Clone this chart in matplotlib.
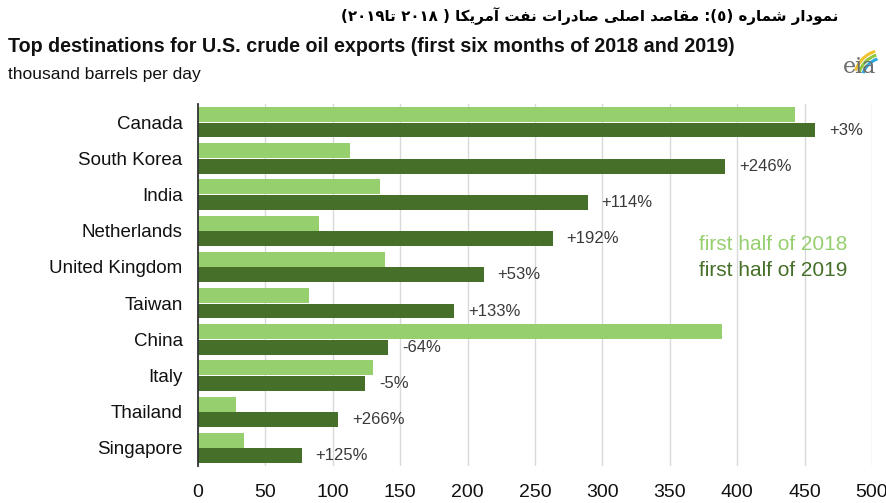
import re
import matplotlib
matplotlib.use("Agg")
import matplotlib.pyplot as plt
from matplotlib.patches import Arc

# === data ===
countries = ["Canada", "South Korea", "India", "Netherlands", "United Kingdom",
             "Taiwan", "China", "Italy", "Thailand", "Singapore"]
h2018 = [443, 113, 135, 90, 139, 82, 389, 130, 28, 34]
h2019 = [458, 391, 289, 263, 212, 190, 141, 124, 104, 77]
changes = ["+3%", "+246%", "+114%", "+192%", "+53%", "+133%", "-64%", "-5%", "+266%", "+125%"]
xticks = [0, 50, 100, 150, 200, 250, 300, 350, 400, 450, 500]

title_fa = "نمودار شماره (٥): مقاصد اصلی صادرات نفت آمریکا ( ٢٠١٨ تا٢٠١٩)"

LIGHT = "#96cf6e"
DARK = "#46702a"

# --- minimal Persian shaping (matplotlib has no Arabic shaping / bidi) ---
# (isolated, final, initial, medial); right-joining letters have only 2 forms
FORMS = {
    "ا": (0xFE8D, 0xFE8E), "آ": (0xFE81, 0xFE82), "د": (0xFEA9, 0xFEAA),
    "ذ": (0xFEAB, 0xFEAC), "ر": (0xFEAD, 0xFEAE), "ز": (0xFEAF, 0xFEB0),
    "ژ": (0xFB8A, 0xFB8B), "و": (0xFEED, 0xFEEE),
    "ب": (0xFE8F, 0xFE90, 0xFE91, 0xFE92), "پ": (0xFB56, 0xFB57, 0xFB58, 0xFB59),
    "ت": (0xFE95, 0xFE96, 0xFE97, 0xFE98), "ث": (0xFE99, 0xFE9A, 0xFE9B, 0xFE9C),
    "ج": (0xFE9D, 0xFE9E, 0xFE9F, 0xFEA0), "چ": (0xFB7A, 0xFB7B, 0xFB7C, 0xFB7D),
    "ح": (0xFEA1, 0xFEA2, 0xFEA3, 0xFEA4), "خ": (0xFEA5, 0xFEA6, 0xFEA7, 0xFEA8),
    "س": (0xFEB1, 0xFEB2, 0xFEB3, 0xFEB4), "ش": (0xFEB5, 0xFEB6, 0xFEB7, 0xFEB8),
    "ص": (0xFEB9, 0xFEBA, 0xFEBB, 0xFEBC), "ض": (0xFEBD, 0xFEBE, 0xFEBF, 0xFEC0),
    "ط": (0xFEC1, 0xFEC2, 0xFEC3, 0xFEC4), "ظ": (0xFEC5, 0xFEC6, 0xFEC7, 0xFEC8),
    "ع": (0xFEC9, 0xFECA, 0xFECB, 0xFECC), "غ": (0xFECD, 0xFECE, 0xFECF, 0xFED0),
    "ف": (0xFED1, 0xFED2, 0xFED3, 0xFED4), "ق": (0xFED5, 0xFED6, 0xFED7, 0xFED8),
    "ک": (0xFB8E, 0xFB8F, 0xFB90, 0xFB91), "گ": (0xFB92, 0xFB93, 0xFB94, 0xFB95),
    "ل": (0xFEDD, 0xFEDE, 0xFEDF, 0xFEE0), "م": (0xFEE1, 0xFEE2, 0xFEE3, 0xFEE4),
    "ن": (0xFEE5, 0xFEE6, 0xFEE7, 0xFEE8), "ه": (0xFEE9, 0xFEEA, 0xFEEB, 0xFEEC),
    "ی": (0xFBFC, 0xFBFD, 0xFBFE, 0xFBFF),
}
MIRROR = {"(": ")", ")": "("}


def shape(word):
    out = []
    for i, c in enumerate(word):
        f = FORMS[c]
        prev = i > 0 and len(FORMS[word[i - 1]]) == 4
        nxt = i + 1 < len(word) and len(f) == 4
        if prev and nxt:
            out.append(f[3])
        elif nxt:
            out.append(f[2])
        elif prev:
            out.append(f[1])
        else:
            out.append(f[0])
    return "".join(chr(x) for x in out)


def rtl(text):
    letters = "".join(FORMS)
    toks = re.findall(r"[\u0660-\u06690-9]+|[" + letters + r"]+|.", text)
    vis = []
    for t in toks:
        if t[0] in FORMS:
            vis.append(shape(t)[::-1])
        else:
            vis.append(MIRROR.get(t, t))
    return "".join(reversed(vis))


# === figure ===
fig = plt.figure(figsize=(8.87, 5.03), dpi=100)
ax = fig.add_axes([198 / 887, 1 - 466 / 503, 674 / 887, 362 / 503])

y = list(range(len(countries)))
ax.barh([v - 0.21 for v in y], h2018, height=0.41, color=LIGHT, zorder=3)
ax.barh([v + 0.22 for v in y], h2019, height=0.41, color=DARK, zorder=3)

for i, (v, lab) in enumerate(zip(h2019, changes)):
    ax.annotate(lab, (v, i + 0.22), xytext=(10, 0), textcoords="offset points",
                va="center", ha="left", fontsize=12, color="#3a3a3a",
                family="Liberation Sans")

ax.set_xlim(0, 500)
ax.set_ylim(len(countries) - 0.5, -0.5)
ax.set_xticks(xticks)
ax.set_xticklabels([str(t) for t in xticks], family="Liberation Sans",
                   fontsize=14, color="#111111")
ax.set_yticks(y)
ax.set_yticklabels(countries, family="Liberation Sans", fontsize=13.5, color="#111111")
ax.tick_params(axis="both", length=0)
ax.tick_params(axis="y", pad=11)
ax.tick_params(axis="x", pad=13)
ax.grid(axis="x", color="#d9d9d9", lw=1, zorder=0)
for s in ["top", "right", "bottom"]:
    ax.spines[s].set_visible(False)
ax.spines["left"].set_color("#333333")
ax.spines["left"].set_linewidth(1.3)
ax.spines["left"].set_zorder(4)

# legend as coloured text
fig.text(847 / 887, 1 - 245 / 503, "first half of 2018", ha="right", va="center",
         fontsize=15, color=LIGHT, family="Liberation Sans")
fig.text(847 / 887, 1 - 270 / 503, "first half of 2019", ha="right", va="center",
         fontsize=15, color=DARK, family="Liberation Sans")

# titles
t = fig.text(590 / 887, 1 - 16 / 503, rtl(title_fa), ha="center", va="center",
             fontsize=15, weight="bold", family="DejaVu Sans", color="black")
# fit the Persian title to the reference width (~496 px)
r = fig.canvas.get_renderer()
w = t.get_window_extent(r).width
t.set_fontsize(15 * 496 / w)

fig.text(8 / 887, 1 - 47 / 503,
         "Top destinations for U.S. crude oil exports (first six months of 2018 and 2019)",
         ha="left", va="center", fontsize=14.2, weight="bold",
         family="Liberation Sans", color="#111111")
fig.text(8 / 887, 1 - 74 / 503, "thousand barrels per day", ha="left", va="center",
         fontsize=12.5, family="Liberation Sans", color="#111111")

# eia logo
fig.text(860 / 887, 1 - 67 / 503, "eia", ha="center", va="center", fontsize=16,
         family="DejaVu Serif", color="#6d6e71")
cx, cy = 884, 80
for rad, col in [(30, "#f2c12e"), (26, "#8dc63f"), (22, "#29a8e0")]:
    fig.add_artist(Arc((cx / 887, 1 - cy / 503), 2 * rad / 887, 2 * rad / 503,
                       theta1=100, theta2=150, color=col, lw=2.2,
                       transform=fig.transFigure))

fig.savefig("out.png", dpi=100)
